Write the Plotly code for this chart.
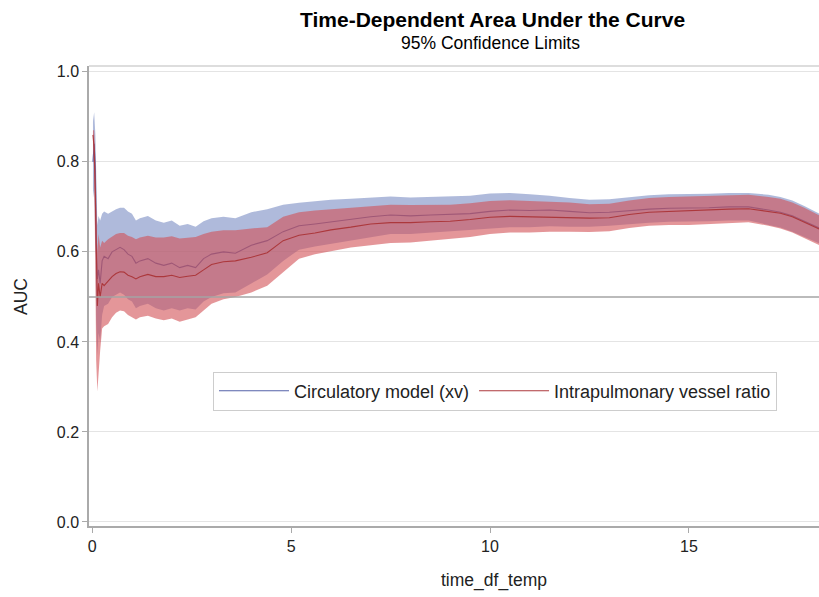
import plotly.graph_objects as go

time = [0.02, 0.05, 0.08, 0.1, 0.13, 0.16, 0.2, 0.25, 0.3, 0.4, 0.5, 0.6, 0.7, 0.8, 0.9, 1.0,
        1.1, 1.2, 1.4, 1.6, 1.8, 2.0, 2.2, 2.4, 2.6, 2.8, 3.0, 3.3, 3.6, 4.0, 4.4, 4.8, 5.2,
        5.6, 6.0, 6.5, 7.0, 7.5, 8.0, 8.5, 9.0, 9.5, 10.0, 10.5, 11.0, 11.5, 12.0, 12.5, 13.0,
        13.5, 14.0, 14.5, 15.0, 15.5, 16.0, 16.5, 17.0, 17.3, 17.6, 17.9, 18.3]

circ_auc = [0.80, 0.84, 0.78, 0.62, 0.54, 0.56, 0.53, 0.58, 0.59, 0.585, 0.60, 0.605, 0.61, 0.605,
            0.595, 0.59, 0.575, 0.58, 0.585, 0.575, 0.57, 0.575, 0.565, 0.57, 0.565, 0.585, 0.595,
            0.60, 0.597, 0.615, 0.625, 0.645, 0.658, 0.662, 0.667, 0.672, 0.678, 0.682, 0.680,
            0.682, 0.683, 0.685, 0.690, 0.693, 0.692, 0.693, 0.690, 0.687, 0.688, 0.692, 0.695,
            0.697, 0.697, 0.698, 0.700, 0.700, 0.693, 0.688, 0.680, 0.668, 0.652]
circ_upper = [0.89, 0.91, 0.86, 0.74, 0.66, 0.68, 0.67, 0.685, 0.69, 0.685, 0.69, 0.695, 0.698,
              0.698, 0.69, 0.685, 0.67, 0.675, 0.68, 0.67, 0.665, 0.67, 0.658, 0.662, 0.656, 0.668,
              0.675, 0.678, 0.675, 0.688, 0.695, 0.705, 0.709, 0.712, 0.716, 0.718, 0.721, 0.723,
              0.721, 0.722, 0.723, 0.725, 0.730, 0.731, 0.728, 0.725, 0.720, 0.716, 0.717, 0.722,
              0.726, 0.728, 0.728, 0.729, 0.731, 0.731, 0.727, 0.722, 0.714, 0.702, 0.684]
circ_lower = [0.72, 0.74, 0.62, 0.45, 0.37, 0.42, 0.40, 0.46, 0.48, 0.485, 0.50, 0.505, 0.51, 0.505,
              0.495, 0.49, 0.475, 0.48, 0.485, 0.475, 0.47, 0.475, 0.47, 0.475, 0.472, 0.49, 0.50,
              0.508, 0.51, 0.53, 0.55, 0.58, 0.605, 0.612, 0.618, 0.626, 0.633, 0.640, 0.640, 0.643,
              0.645, 0.648, 0.652, 0.655, 0.655, 0.657, 0.656, 0.656, 0.658, 0.662, 0.665, 0.667,
              0.667, 0.668, 0.670, 0.670, 0.660, 0.654, 0.645, 0.633, 0.618]

ipv_auc = [0.86, 0.83, 0.72, 0.58, 0.48, 0.53, 0.50, 0.53, 0.525, 0.535, 0.545, 0.552, 0.556, 0.555,
           0.548, 0.545, 0.54, 0.545, 0.55, 0.545, 0.545, 0.548, 0.543, 0.546, 0.548, 0.56, 0.572,
           0.578, 0.58, 0.588, 0.598, 0.625, 0.637, 0.642, 0.649, 0.655, 0.662, 0.665, 0.665, 0.667,
           0.668, 0.672, 0.677, 0.679, 0.678, 0.678, 0.677, 0.675, 0.676, 0.683, 0.688, 0.690,
           0.691, 0.693, 0.695, 0.696, 0.690, 0.686, 0.678, 0.666, 0.650]
ipv_upper = [0.87, 0.87, 0.80, 0.68, 0.60, 0.64, 0.61, 0.625, 0.62, 0.628, 0.635, 0.64, 0.642, 0.642,
             0.636, 0.633, 0.628, 0.632, 0.636, 0.632, 0.632, 0.635, 0.63, 0.632, 0.633, 0.64, 0.645,
             0.648, 0.648, 0.652, 0.655, 0.678, 0.688, 0.692, 0.695, 0.698, 0.702, 0.705, 0.704,
             0.705, 0.705, 0.708, 0.713, 0.715, 0.713, 0.712, 0.71, 0.706, 0.707, 0.714, 0.72, 0.722,
             0.723, 0.724, 0.726, 0.727, 0.722, 0.718, 0.71, 0.698, 0.68]
ipv_lower = [0.84, 0.78, 0.55, 0.36, 0.29, 0.34, 0.38, 0.43, 0.435, 0.44, 0.455, 0.465, 0.47, 0.468,
             0.46, 0.455, 0.45, 0.455, 0.458, 0.452, 0.448, 0.452, 0.445, 0.45, 0.455, 0.47, 0.485,
             0.495, 0.50, 0.51, 0.525, 0.555, 0.585, 0.595, 0.602, 0.610, 0.615, 0.620, 0.621, 0.625,
             0.628, 0.633, 0.640, 0.643, 0.643, 0.645, 0.645, 0.644, 0.646, 0.653, 0.658, 0.66, 0.66,
             0.662, 0.665, 0.666, 0.658, 0.652, 0.643, 0.63, 0.614]

x_ticks = [0, 5, 10, 15]
y_ticks = [0.0, 0.2, 0.4, 0.6, 0.8, 1.0]
ref_auc = 0.5

BLUE_LINE = "rgb(84,98,168)"
RED_LINE = "rgb(172,56,60)"
BLUE_FILL = "rgba(110,130,190,0.55)"
RED_FILL = "rgba(210,80,85,0.6)"
AXIS_GRAY = "rgb(170,170,170)"

FONT = "Liberation Sans, Arial, sans-serif"

# plot area in pixels
L, R, T, B = 89, 0, 66, 71
PW, PH = 819 - L - R, 597 - T - B

fig = go.Figure()

fig.add_trace(go.Scatter(x=time, y=circ_upper, mode="lines", line=dict(width=0),
                         showlegend=False, hoverinfo="skip"))
fig.add_trace(go.Scatter(x=time, y=circ_lower, mode="lines", line=dict(width=0),
                         fill="tonexty", fillcolor=BLUE_FILL, showlegend=False, hoverinfo="skip"))
fig.add_trace(go.Scatter(x=time, y=circ_auc, mode="lines", name="Circulatory model (xv)",
                         line=dict(color=BLUE_LINE, width=1.1)))
fig.add_trace(go.Scatter(x=time, y=ipv_upper, mode="lines", line=dict(width=0),
                         showlegend=False, hoverinfo="skip"))
fig.add_trace(go.Scatter(x=time, y=ipv_lower, mode="lines", line=dict(width=0),
                         fill="tonexty", fillcolor=RED_FILL, showlegend=False, hoverinfo="skip"))
fig.add_trace(go.Scatter(x=time, y=ipv_auc, mode="lines", name="Intrapulmonary vessel ratio",
                         line=dict(color=RED_LINE, width=1.1)))

fig.add_hline(y=ref_auc, line=dict(color="rgb(165,165,165)", width=1.5), layer="above")

# light top frame line
fig.add_shape(type="line", xref="paper", yref="paper", x0=0, x1=1, y0=1, y1=1,
              line=dict(color="rgb(210,210,210)", width=1.5))

fig.update_layout(
    width=819, height=597,
    margin=dict(l=L, r=R, t=T, b=B, autoexpand=False),
    paper_bgcolor="white", plot_bgcolor="white",
    font=dict(family=FONT, color="#222", size=15),
    annotations=[
        dict(text="<b>Time-Dependent Area Under the Curve</b>", xref="paper", yref="paper",
             x=(492 - L) / PW, y=1 + (T - 20) / PH, xanchor="center", yanchor="middle",
             showarrow=False, font=dict(size=21, color="#000")),
        dict(text="95% Confidence Limits", xref="paper", yref="paper",
             x=(491 - L) / PW, y=1 + (T - 43) / PH, xanchor="center", yanchor="middle",
             showarrow=False, font=dict(size=17.5, color="#000")),
        dict(text="time_df_temp", xref="paper", yref="paper",
             x=(494 - L) / PW, y=-(580 - (597 - B)) / PH, xanchor="center", yanchor="middle",
             showarrow=False, font=dict(size=17.5, color="#222")),
        dict(text="AUC", xref="paper", yref="paper", textangle=-90,
             x=(21 - L) / PW, y=(597 - B - 297) / PH, xanchor="center", yanchor="middle",
             showarrow=False, font=dict(size=17.5, color="#222")),
    ],
    xaxis=dict(range=[-0.08, 18.27], tickvals=x_ticks, showgrid=False, zeroline=False,
               showline=True, linecolor=AXIS_GRAY, linewidth=1.5,
               ticks="outside", ticklen=5, tickcolor=AXIS_GRAY,
               tickfont=dict(size=16, color="#222")),
    yaxis=dict(range=[-0.009, 1.013], tickvals=y_ticks, tickformat=".1f", showgrid=True,
               gridcolor="rgb(228,228,228)", gridwidth=1, zeroline=False,
               showline=True, linecolor=AXIS_GRAY, linewidth=1.5,
               ticks="outside", ticklen=5, tickcolor=AXIS_GRAY,
               tickfont=dict(size=16, color="#222")),
    legend=dict(orientation="h", x=(213 - L) / PW, y=(597 - B - 391) / PH, xanchor="left",
                yanchor="middle", bordercolor="rgb(205,205,205)", borderwidth=1,
                bgcolor="white", font=dict(size=18, color="#222"), itemwidth=70,
                traceorder="normal", tracegroupgap=0),
    showlegend=True,
)

fig.write_html("out.html", config={"displayModeBar": False},
               post_script="document.body.style.margin='0';document.body.style.overflow='hidden';")
